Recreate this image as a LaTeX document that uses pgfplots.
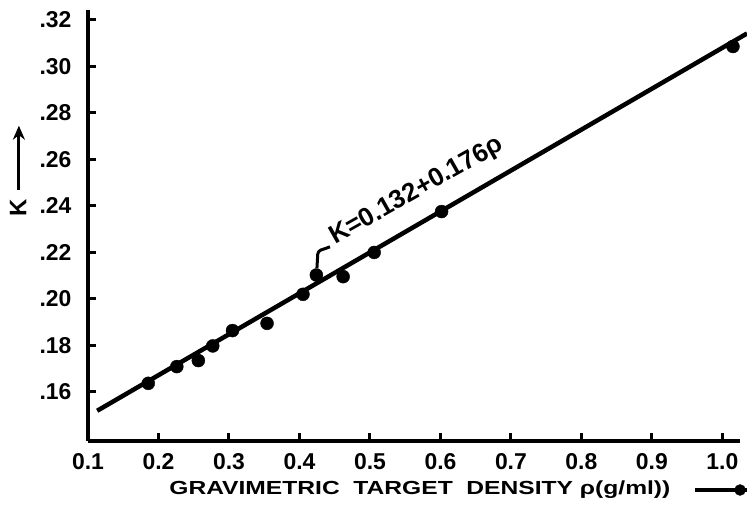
\documentclass[border=0pt]{standalone}
\usepackage{fontspec}
\setmainfont{Liberation Sans}
\usepackage{pgfplots}
\pgfplotsset{compat=1.18}
\usetikzlibrary{arrows.meta}
\begin{document}
\begin{tikzpicture}[x=1bp,y=1bp]
\path[use as bounding box] (0,0) rectangle (747,509);
\begin{axis}[
  at={(88bp,68bp)}, anchor=south west,
  scale only axis, width=652bp, height=431bp,
  xmin=0.1, xmax=1.025, ymin=0.1389, ymax=0.3243,
  axis x line=bottom, axis y line=left,
  axis line style={line width=3.5bp,-},
  tick align=inside, major tick length=8bp,
  tick style={line width=3bp, black},
  xtick={0.1,0.2,0.3,0.4,0.5,0.6,0.7,0.8,0.9,1.0},
  xticklabels={0.1,0.2,0.3,0.4,0.5,0.6,0.7,0.8,0.9,1.0},
  ytick={0.16,0.18,0.20,0.22,0.24,0.26,0.28,0.30,0.32},
  yticklabels={.16,.18,.20,.22,.24,.26,.28,.30,.32},
  /pgf/number format/assume math mode=true,
  ticklabel style={font=\fontsize{23}{23}\selectfont\bfseries},
  xticklabel style={yshift=-9bp},
  yticklabel style={xshift=-13bp},
  xlabel={\scalebox{1.3}[1]{GRAVIMETRIC\ \ TARGET\ \ DENSITY\ ρ(g/ml))}},
  xlabel style={font=\fontsize{19}{19}\selectfont\bfseries, at={(axis description cs:0.509,-0.1137)}, anchor=center},
  ylabel={K\hspace{8bp}\tikz[baseline=-0.6ex]\draw[-{Stealth[length=14bp,width=12bp]},line width=3bp] (0,0)--(64bp,0);},
  ylabel style={font=\fontsize{24}{24}\selectfont\bfseries, at={(axis description cs:-0.107,0.628)}, anchor=center},
  clip=false,
  legend style={draw=none, fill=none, at={(axis description cs:0.974,-0.1137)}, anchor=center, inner sep=0pt, font=\tiny},
  legend image code/.code={\draw[line width=4bp] (-12bp,0) -- (40bp,0); \fill (33bp,0) circle (5.5bp);},
]
\addplot[black, line width=4.5bp, forget plot] coordinates {(0.113,0.1519) (1.035,0.3142)};
\addplot[only marks, mark=*, mark size=6.5bp, black, forget plot] coordinates {
 (0.1855,0.1637) (0.226,0.1709) (0.2565,0.1735) (0.277,0.1798) (0.305,0.1864)
 (0.354,0.1895) (0.405,0.2020) (0.424,0.2103) (0.462,0.2096) (0.506,0.2200)
 (0.6016,0.2376) (1.015,0.3086)};
\addlegendimage{black}
\addlegendentry{}
\node[rotate=29.5, font=\fontsize{26}{26}\selectfont\bfseries, anchor=base west, inner sep=0pt] at (axis cs:0.4504,0.2232) {K=0.132+0.176ρ};
\draw[line width=3bp, rounded corners=3bp] (axis cs:0.4433,0.2224) -- (axis cs:0.4262,0.2206) -- (axis cs:0.4248,0.2133);
\end{axis}
\end{tikzpicture}
\end{document}
